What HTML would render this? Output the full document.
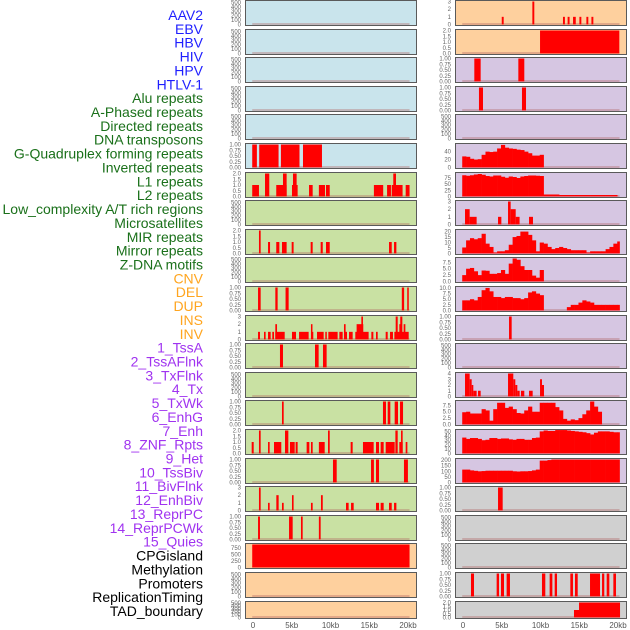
<!DOCTYPE html>
<html><head><meta charset="utf-8">
<style>
html,body{margin:0;padding:0;background:#fff;}
svg{display:block;font-family:"Liberation Sans",sans-serif;}
</style></head>
<body>
<svg id="chart" width="630" height="630" viewBox="0 0 630 630" xmlns="http://www.w3.org/2000/svg"></svg>
<script>
// ---- labels ----
const labelNames = ["AAV2","EBV","HBV","HIV","HPV","HTLV-1","Alu repeats","A-Phased repeats","Directed repeats","DNA transposons","G-Quadruplex forming repeats","Inverted repeats","L1 repeats","L2 repeats","Low_complexity A/T rich regions","Microsatellites","MIR repeats","Mirror repeats","Z-DNA motifs","CNV","DEL","DUP","INS","INV","1_TssA","2_TssAFlnk","3_TxFlnk","4_Tx","5_TxWk","6_EnhG","7_Enh","8_ZNF_Rpts","9_Het","10_TssBiv","11_BivFlnk","12_EnhBiv","13_ReprPC","14_ReprPCWk","15_Quies","CPGisland","Methylation","Promoters","ReplicationTiming","TAD_boundary"];
const labelGroups = [6,13,5,15,5];
const groupColors = ["#1f1fff","#1a701a","#ffa51f","#a033f0","#000000"];
const xTickValues = [0,5000,10000,15000,20000];
const xTickLabels = ["0","5kb","10kb","15kb","20kb"];
const ticks500 = [0,100,200,300,400,500];
const ticks1 = [0,0.25,0.5,0.75,1.0];
const ticks1Labels = ["0.00","0.25","0.50","0.75","1.00"];
const ticks2 = [0,0.5,1.0,1.5,2.0];
const ticks2Labels = ["0.0","0.5","1.0","1.5","2.0"];
const ticks3 = [0,1,2,3];
const ticks4 = [0,1,2,3,4];
// ---- left column data (segments: startKb, endKb, value) ----
const gquadLeftSegs = [[-0.1,0.5,1],[0.8,3.3,1],[3.6,6.0,1],[6.45,8.9,1]];
const l1LeftSegs = [[-0.1,0.77,1],[1.55,2.1,2],[3.0,4.34,1],[3.87,4.34,2],[5.03,5.76,1],[5.16,5.63,2],[7.23,7.7,1],[8.5,9.29,1],[9.42,9.9,1],[15.6,16.8,1],[17.3,17.8,1],[17.9,19.3,1],[18.1,18.45,2],[19.7,20.2,1]];
const mirLeftSegs = [[0.77,0.99,2],[1.94,2.2,1],[3.0,3.4,1],[3.74,4.34,1],[4.99,5.24,1],[7.44,7.7,1],[8.73,9.0,1],[9.42,9.9,1],[17.55,17.9,1],[18.2,18.5,1]];
const delLeftSegs = [[0.65,0.99,1],[2.88,3.18,1],[4.2,4.6,1],[19.2,19.5,1],[19.9,20.1,1]];
const invLeftSegs = [[0.65,0.9,1],[1.42,1.63,1],[1.94,2.28,1],[2.49,2.71,1],[2.88,4.09,1],[5.03,5.55,1],[5.94,7.18,1],[7.48,7.78,1],[8.26,9.12,1],[9.33,9.5,1],[9.72,10.92,1],[11.14,11.57,1],[11.74,12.13,1],[12.39,12.86,1],[13.2,14.92,1],[15.27,15.53,1],[15.87,16.09,1],[17.12,17.38,1],[17.68,18.06,1],[18.24,20.09,1],[2.88,3.1,2],[7.48,7.66,2],[11.74,11.95,2],[13.37,14.23,2],[18.88,19.14,2],[19.44,19.66,2],[13.98,14.19,3],[18.41,18.67,3],[19.0,19.27,3]];
const tssaLeftSegs = [[3.48,3.87,1],[8.0,8.47,1],[9.03,9.5,1]];
const txwkLeftSegs = [[3.74,3.96,1],[16.77,17.16,1],[17.38,17.72,1],[18.28,18.71,1],[18.97,19.36,1]];
const enhLeftSegs = [[-0.17,0.09,1],[0.77,0.99,2],[1.94,2.15,1],[2.71,3.65,1],[4.13,4.56,2],[4.77,5.38,1],[5.5,5.76,1],[6.92,7.27,1],[7.48,7.7,1],[8.5,9.25,1],[9.68,9.9,2],[12.6,12.86,1],[14.19,15.57,1],[15.87,16.26,1],[16.47,16.86,1],[17.12,18.28,1],[18.37,18.67,2],[18.88,19.31,1],[19.1,19.31,2],[19.7,19.92,1]];
const tssbivLeftSegs = [[10.32,10.8,1],[15.23,15.6,1],[15.87,16.26,1],[19.48,19.99,1]];
const enhbivLeftSegs = [[0.77,0.99,3],[1.94,2.15,1],[3.01,3.31,2],[3.74,3.96,1],[5.03,5.24,2],[7.48,7.7,1],[8.77,9.0,2],[12.0,12.34,1],[12.65,12.99,1],[15.87,16.26,1],[16.47,16.86,1],[17.55,17.9,1],[18.2,18.5,1]];
const reprLeftSegs = [[0.65,0.9,1],[4.65,5.12,1],[6.19,6.41,1],[8.5,8.73,1]];
const cpgLeftSegs = [[-0.1,20.2,880]];
// ---- right column data ----
const aavRightSegs = [[5.0,5.25,1],[8.95,9.2,3],[12.9,13.15,1],[13.5,13.75,1],[14.2,14.55,1],[15.02,15.27,1],[15.92,16.17,1],[16.57,16.82,1]];
const ebvRightSegs = [[9.94,20.17,2]];
const hivRightSegs = [[1.46,2.28,1],[7.14,7.91,1]];
const hpvRightSegs = [[2.06,2.58,1],[7.61,8.13,1]];
const gquadRightBins = [28,27,22,20,21,32,40,39,40,48,57,50,48,47,45,44,40,36,30,30,32];
const l1RightBins = [85,83,85,88,90,87,82,80,84,84,79,75,80,78,74,80,82,84,84,83,82,8,8,8,8,6,6,6,6,6,6,6,6,6,6,6,6,6,6,6];
const l2RightSegs = [[0.26,0.86,2],[0.86,1.76,1],[4.52,4.95,1],[5.81,6.15,3],[6.15,6.8,2],[6.8,7.3,1],[8.52,9.03,1]];
const mirRightBins = [5.5,12,14,13,14,18,9,6,1,2,2,3,8,15,16,20,20,17,12,2,10,9,6,4,5,6,5,4,3,3,3,3,1,2,2,2,2,4,6,9,11];
const zdnaRightBins = [2.5,5,5.3,4,2.5,4.3,4.2,3,3,3.3,4.5,3,7,9,8.5,6,4.5,4.5,2.3,1.5,4.5];
const cnvRightBins = [4.5,4.5,5,4.5,6,9,10,8.5,6,6,5.5,6,6,5.5,5.5,5,5.5,8,8.5,7.5,6.8,0,0,0,0,0,0,1.5,2.5,2.5,3.5,4.5,4,3.5,2.5,2.5,2.5,2.5,2.5,2.5,2.5];
const dupRightSegs = [[5.94,6.28,1]];
const insRightSegs = [[0.26,0.86,4],[0.86,1.12,3],[1.12,1.33,2],[1.33,1.76,1],[1.94,2.28,1],[5.81,6.49,4],[6.49,6.75,3],[6.75,7.01,2],[7.01,7.31,1],[7.48,7.91,1],[8.52,8.99,1],[9.94,10.19,3],[10.19,10.45,2]];
const invRightBins = [4.8,5,4.3,4.3,4.3,6,5.5,1.5,6,8.5,8.5,6.5,7,6,4.5,4.3,5.5,7,5,5,8.5,8.5,8.5,8.5,6.8,5.5,2.2,1.5,2,1.7,2.5,4,5.5,9,7,5];
const tssaRightBins = [36,33,35,35,33,30,31,35,35,33,34,34,32,31,33,33,31,31,35,36,50,52,51,51,53,53,53,52,51,50,49,48,46,43,47,50,50,50,49,48,48];
const flnkRightBins = [115,115,108,104,100,102,105,105,105,105,105,105,105,100,98,100,100,102,108,115,195,195,200,205,205,205,205,205,205,205,205,205,205,205,205,205,205,205,205,205,205];
const txRightSegs = [[4.52,5.12,1]];
const promRightSegs = [[1.03,1.42,1],[4.34,4.65,1],[4.9,5.29,1],[5.63,6.06,1],[10.19,10.62,1],[11.18,11.53,1],[11.83,12.13,1],[13.85,14.19,1],[14.45,14.8,1],[16.39,17.68,1],[17.94,18.23,1],[18.54,18.88,1],[19.4,19.74,1]];
const tadRightSegs = [[14.32,20.26,1],[14.97,20.26,2]];

const BG = {blue:"#c9e4ec",green:"#c9e1a3",orange:"#fed09e",purple:"#d6c6e2",gray:"#d0d0d0"};
const E = [];
function P(col,row,bg,ticks,tlab,ymax,segs,bins){return {col,row,bg,ticks,tlab,ymax,segs,bins};}
const panels = [
 P(0,0,"blue",ticks500,null,520,E,null),
 P(0,1,"blue",ticks500,null,520,E,null),
 P(0,2,"blue",ticks500,null,520,E,null),
 P(0,3,"blue",ticks500,null,520,E,null),
 P(0,4,"blue",ticks500,null,520,E,null),
 P(0,5,"blue",ticks1,ticks1Labels,1.0,gquadLeftSegs,null),
 P(0,6,"green",ticks2,ticks2Labels,2.0,l1LeftSegs,null),
 P(0,7,"green",ticks500,null,520,E,null),
 P(0,8,"green",ticks2,ticks2Labels,2.0,mirLeftSegs,null),
 P(0,9,"green",ticks500,null,520,E,null),
 P(0,10,"green",ticks1,ticks1Labels,1.0,delLeftSegs,null),
 P(0,11,"green",ticks3,null,3.0,invLeftSegs,null),
 P(0,12,"green",ticks1,ticks1Labels,1.0,tssaLeftSegs,null),
 P(0,13,"green",ticks500,null,520,E,null),
 P(0,14,"green",ticks1,ticks1Labels,1.0,txwkLeftSegs,null),
 P(0,15,"green",ticks2,ticks2Labels,2.0,enhLeftSegs,null),
 P(0,16,"green",ticks1,ticks1Labels,1.0,tssbivLeftSegs,null),
 P(0,17,"green",ticks3,null,3.0,enhbivLeftSegs,null),
 P(0,18,"green",ticks1,ticks1Labels,1.0,reprLeftSegs,null),
 P(0,19,"orange",[0,250,500,750],null,880,cpgLeftSegs,null),
 P(0,20,"orange",ticks500,null,520,E,null),
 P(0,21,"orange",ticks500,null,520,E,null),
 P(1,0,"orange",ticks3,null,3.0,aavRightSegs,null),
 P(1,1,"orange",ticks2,ticks2Labels,2.0,ebvRightSegs,null),
 P(1,2,"purple",ticks1,ticks1Labels,1.0,hivRightSegs,null),
 P(1,3,"purple",ticks1,ticks1Labels,1.0,hpvRightSegs,null),
 P(1,4,"purple",ticks500,null,520,E,null),
 P(1,5,"purple",[0,20,40],null,58,E,gquadRightBins),
 P(1,6,"purple",[0,25,50,75],null,92,E,l1RightBins),
 P(1,7,"purple",ticks3,null,3.0,l2RightSegs,null),
 P(1,8,"purple",[0,5,10,15,20],null,21,E,mirRightBins),
 P(1,9,"purple",[0,2.5,5,7.5],["0.0","2.5","5.0","7.5"],9,E,zdnaRightBins),
 P(1,10,"purple",[0,2.5,5,7.5,10],["0.0","2.5","5.0","7.5","10.0"],10.2,E,cnvRightBins),
 P(1,11,"purple",ticks1,ticks1Labels,1.0,dupRightSegs,null),
 P(1,12,"purple",ticks500,null,520,E,null),
 P(1,13,"purple",ticks4,null,4.0,insRightSegs,null),
 P(1,14,"purple",[0,2.5,5,7.5],["0.0","2.5","5.0","7.5"],9,E,invRightBins),
 P(1,15,"purple",[0,10,20,30,40,50],null,52,E,tssaRightBins),
 P(1,16,"purple",[0,50,100,150,200],null,205,E,flnkRightBins),
 P(1,17,"gray",ticks1,ticks1Labels,1.0,txRightSegs,null),
 P(1,18,"gray",ticks500,null,520,E,null),
 P(1,19,"gray",ticks500,null,520,E,null),
 P(1,20,"gray",ticks1,ticks1Labels,1.0,promRightSegs,null),
 P(1,21,"gray",ticks2,ticks2Labels,2.0,tadRightSegs,null)
];

const NS="http://www.w3.org/2000/svg";
const svg=document.getElementById('chart');
function mk(tag,attrs,parent){const e=document.createElementNS(NS,tag);for(const k in attrs)e.setAttribute(k,attrs[k]);(parent||svg).appendChild(e);return e;}

// labels
let li=0;
labelGroups.forEach((n,g)=>{for(let k=0;k<n;k++){
  const t=mk('text',{x:203,y:20+13.86*li,'text-anchor':'end','font-size':'14',fill:groupColors[g]});
  t.textContent=labelNames[li];
  
  
  li++;}});

const colX=[245,455], PW=171;
const kbMin=-1.032, kbMax=21.032;
function xs(col,kb){return colX[col]+(kb-kbMin)/(kbMax-kbMin)*PW;}
function rowTop(r){return Math.round(r*28.6);}
function rowH(r){return r===21?17:25;}

panels.forEach(p=>{
  const top=rowTop(p.row), h=rowH(p.row), x0=colX[p.col];
  const g=mk('g',{});
  
  
  const bg=mk('rect',{x:x0+0.5,y:top+0.5,width:PW,height:h,fill:BG[p.bg],stroke:'#5a5a5a','stroke-width':1},g);
  
  
  const ys=v=>top+h-0.5-v/p.ymax*(h-2);
  // ticks
  p.ticks.forEach((tv,i)=>{
    const t=mk('text',{x:x0-4,y:ys(tv)+2,'text-anchor':'end','font-size':'6',fill:'#666'},g);
    t.textContent=p.tlab?p.tlab[i]:String(tv);
    
    
  });
  // baseline
  const bl=mk('line',{x1:xs(p.col,-0.1),x2:xs(p.col,20.2),y1:top+h-1,y2:top+h-1,stroke:'#b06060','stroke-width':1,opacity:0.7},g);
  
  
  p.segs.forEach(s=>{
    const xa=xs(p.col,s[0]), xb=xs(p.col,s[1]);
    const r=mk('rect',{x:xa,y:ys(s[2]),width:Math.max(1.5,xb-xa),height:top+h-0.5-ys(s[2]),fill:'#ff0000'},g);
    
    
  });
  if(p.bins){
    p.bins.forEach((v,i)=>{
      if(v<=0)return;
      const xa=xs(p.col,-0.1+i*0.5), xb=xs(p.col,Math.min(20.2,-0.1+(i+1)*0.5));
      const r=mk('rect',{x:xa,y:ys(v),width:xb-xa+0.3,height:top+h-0.5-ys(v),fill:'#ff0000'},g);
      
      
    });
  }
});
// x axis labels
[0,1].forEach(col=>{
  xTickValues.forEach((v,i)=>{
    const t=mk('text',{x:xs(col,v/1000),y:628,'text-anchor':'middle','font-size':'8',fill:'#555'});
    t.textContent=xTickLabels[i];
    
    
  });
});
</script>
</body></html>
